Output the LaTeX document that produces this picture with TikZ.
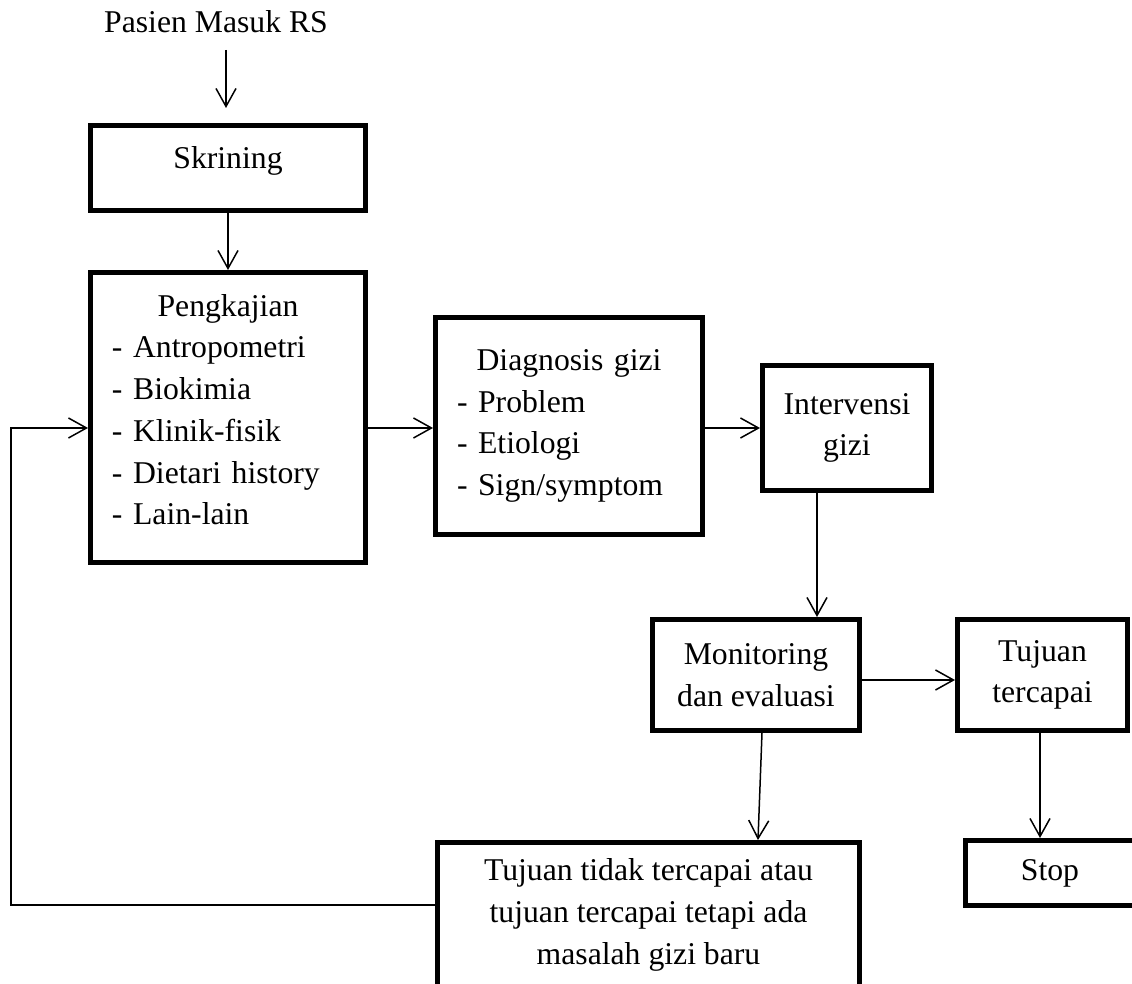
\documentclass[tikz,border=0pt]{standalone}
\usepackage{fontspec}
\setmainfont{Liberation Serif}
\usetikzlibrary{arrows.meta}

\begin{document}
\begin{tikzpicture}[x=0.5pt,y=-0.5pt,
  font=\fontsize{15.85}{20.85}\selectfont,
  box/.style={draw,line width=2.5pt,inner sep=0pt},
  list/.style={align=left},
  arr/.style={-{Straight Barb[length=9pt,width=10pt]},line width=0.75pt}]
\clip (0,0) rectangle (1132,984);
% entry
\node[anchor=base] (pasien) at (216,33) {Pasien Masuk RS};
\coordinate (masuk) at (226,50);
% left column
\node[box,minimum width=137.5pt,minimum height=42.5pt,text depth=10.8pt] (skr) at (228,168) {Skrining};
\node[box,list,minimum width=137.5pt,minimum height=145pt,text width=116pt,text depth=112.25pt] (peng) at (228,417.5)
  {{\centering Pengkajian\par}- Antropometri\\- Biokimia\\- Klinik-fisik\\- Dietari history\\- Lain-lain};
% middle row
\node[box,list,minimum width=133.5pt,minimum height=108.5pt,text width=112pt] (diag) at (569,426)
  {{\centering Diagnosis gizi\par}- Problem\\- Etiologi\\- Sign/symptom};
\node[box,align=center,minimum width=84.5pt,minimum height=62.5pt] (inter) at (847,428) {Intervensi\\gizi};
% monitoring and outcomes
\node[box,align=center,minimum width=103.5pt,minimum height=55.5pt] (mon) at (756,675) {Monitoring\\dan evaluasi};
\node[box,align=center,minimum width=85pt,minimum height=55.5pt] (tuj) at (1042.5,675) {Tujuan\\tercapai};
\node[box,minimum width=84.5pt,minimum height=32.5pt] (stop) at (1050,873) {Stop};
\node[box,align=center,minimum width=211pt,minimum height=72.5pt] (tidak) at (648.5,915)
  {Tujuan tidak tercapai atau\\tujuan tercapai tetapi ada\\masalah gizi baru};
\coordinate (fb) at (11,905);
% arrows
\draw[arr,shorten >=7.5pt] (masuk) -- (masuk |- skr.north);
\draw[arr] (skr.south) -- (peng.north);
\draw[arr] (peng.east |- inter.west) -- (diag.west |- inter.west);
\draw[arr] (diag.east |- inter.west) -- (inter.west);
\draw[arr] ([xshift=-15pt]inter.south) -- ([xshift=-15pt]inter.south |- mon.north);
\draw[arr] ([yshift=-2.5pt]mon.east) -- ([yshift=-2.5pt]mon.east -| tuj.west);
\draw[arr] ([xshift=-1.25pt]tuj.south) -- ([xshift=-1.25pt]tuj.south |- stop.north);
\draw[arr] ([xshift=3pt]mon.south) -- ([xshift=54.75pt]tidak.north);
% back to assessment
\draw[arr] ([yshift=5pt]tidak.west) -- (fb) |- (peng.west |- inter.west);
\end{tikzpicture}
\end{document}
